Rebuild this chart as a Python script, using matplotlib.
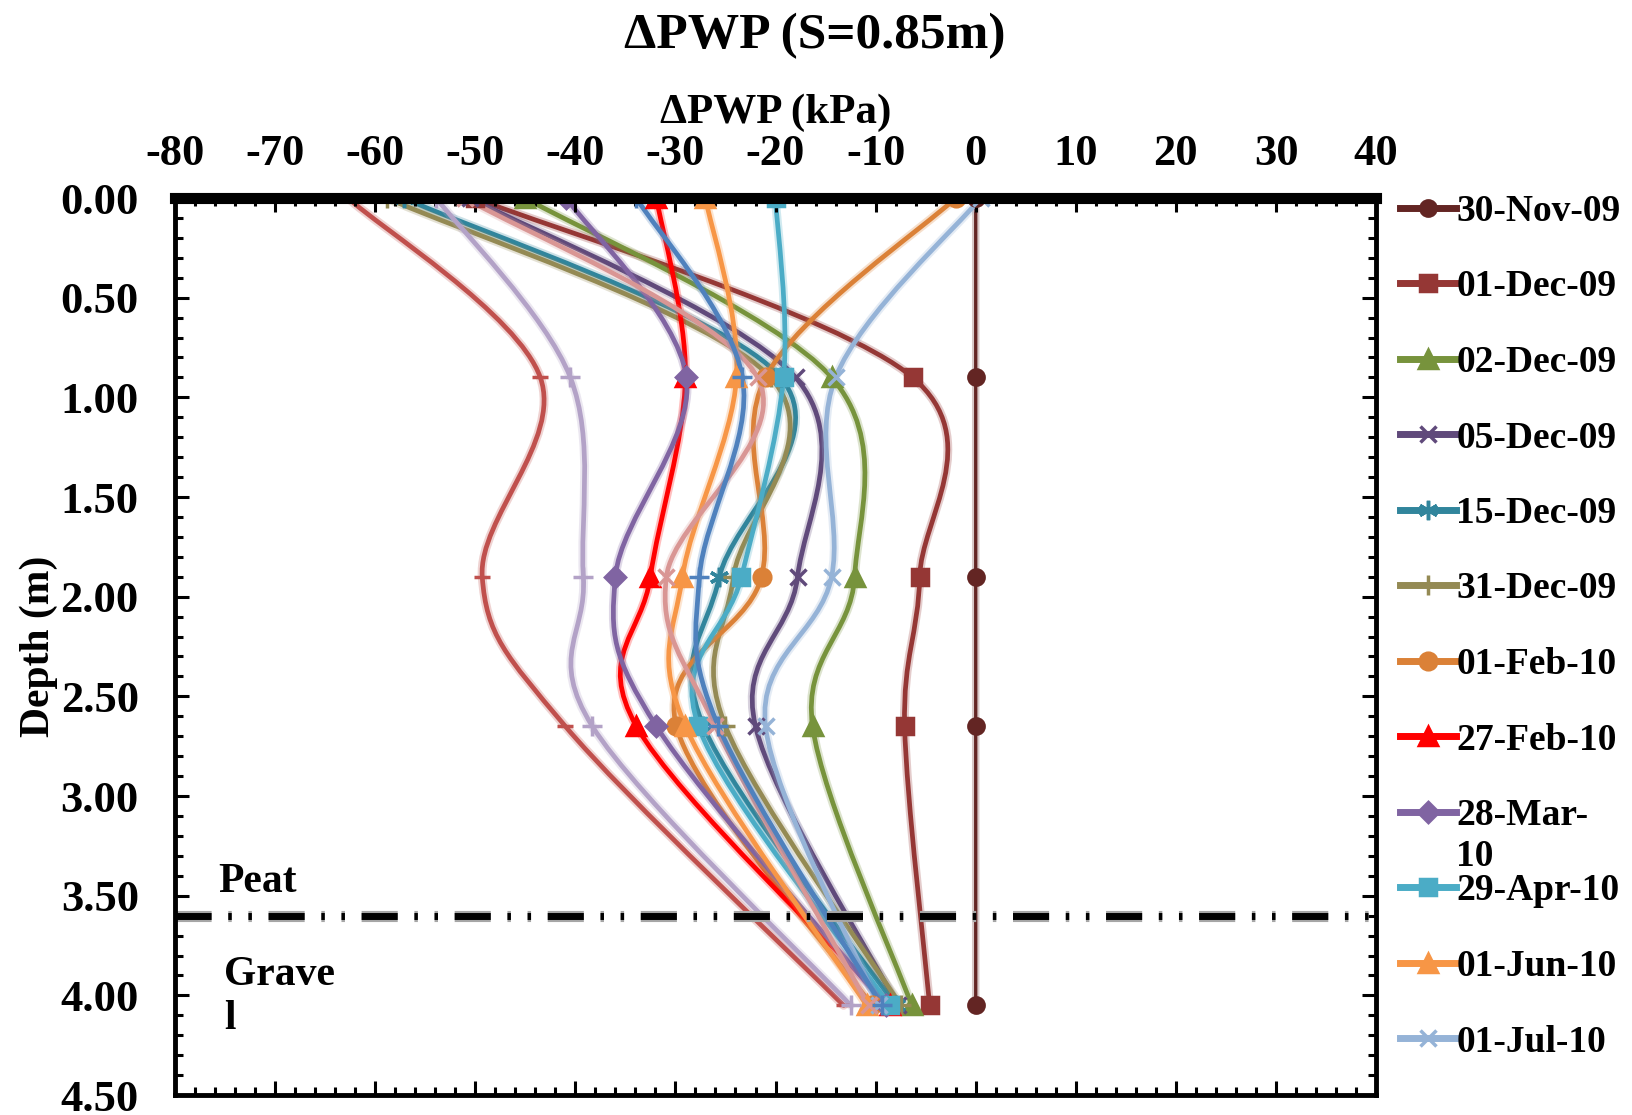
import numpy as np
import matplotlib
matplotlib.use("Agg")
import matplotlib.pyplot as plt
import matplotlib.patheffects as pe
from matplotlib.path import Path
from matplotlib.patches import PathPatch
from matplotlib.lines import Line2D
from matplotlib.ticker import MultipleLocator, FormatStrFormatter
from matplotlib.transforms import IdentityTransform

plt.rcParams["font.family"] = ["Liberation Serif", "DejaVu Serif"]
plt.rcParams["font.weight"] = "bold"
plt.rcParams["axes.labelweight"] = "bold"
plt.rcParams["axes.unicode_minus"] = False

# depth of the piezometers (m)
depth = [0.0, 0.9, 1.9, 2.65, 4.05]

# change in pore water pressure (kPa) at each depth
nov30_09 = [0.0, 0.0, 0.0, 0.0, 0.0]
dec01_09 = [-50.0, -6.3, -5.6, -7.1, -4.6]
dec02_09 = [-45.0, -14.4, -12.1, -16.3, -6.4]
dec05_09 = [-50.5, -18.0, -17.8, -22.0, -7.8]
dec15_09 = [-57.1, -19.5, -25.6, -27.2, -8.0]
dec31_09 = [-58.8, -20.5, -24.2, -25.0, -7.5]
feb01_10 = [-2.0, -21.0, -21.4, -29.9, -10.4]
feb27_10 = [-31.9, -29.0, -32.5, -33.9, -8.6]
mar28_10 = [-40.9, -28.9, -36.0, -31.9, -9.0]
apr29_10 = [-20.0, -19.2, -23.4, -27.7, -8.6]
jun01_10 = [-27.0, -23.9, -29.3, -29.0, -10.9]
jul01_10 = [0.5, -14.0, -14.4, -21.0, -9.7]
# later readings (not listed in the legend)
later_a = [-62.7, -43.5, -49.3, -41.0, -13.2]
later_b = [-53.9, -40.5, -39.2, -38.3, -12.5]
later_c = [-51.0, -21.8, -30.9, -26.0, -10.7]
later_d = [-33.9, -23.3, -27.6, -25.7, -9.4]

labels = ["30-Nov-09", "01-Dec-09", "02-Dec-09", "05-Dec-09", "15-Dec-09",
          "31-Dec-09", "01-Feb-10", "27-Feb-10", "28-Mar-", "29-Apr-10",
          "01-Jun-10", "01-Jul-10"]

series = [nov30_09, dec01_09, dec02_09, dec05_09, dec15_09, dec31_09,
          feb01_10, feb27_10, mar28_10, apr29_10, jun01_10, jul01_10,
          later_a, later_b, later_c, later_d]

asterisk = (6, 2, 0)
styles = [
    ("#632523", "o", 11), ("#953735", "s", 12), ("#77933C", "^", 13),
    ("#604A7B", "x", 12), ("#31859C", asterisk, 14), ("#948A54", "+", 14),
    ("#DB8137", "o", 12), ("#FF0000", "^", 13), ("#8064A2", "D", 10),
    ("#4BACC6", "s", 12), ("#F79646", "^", 13), ("#95B3D7", "x", 12),
    ("#C0504D", "_", 12), ("#B3A2C7", "+", 14), ("#D99694", "x", 12),
    ("#4F81BD", "+", 14),
]

peat_depth = 3.6


def smooth_path(xv, yv, ys=20.0):
    # Catmull-Rom style bezier through the points (depth scaled to screen units)
    p = np.column_stack([xv, np.asarray(yv) * ys])
    n = len(p)
    verts = [p[0]]
    codes = [Path.MOVETO]
    for i in range(n - 1):
        p0 = p[max(i - 1, 0)]
        p1, p2 = p[i], p[i + 1]
        p3 = p[min(i + 2, n - 1)]
        verts += [p1 + (p2 - p0) / 6, p2 - (p3 - p1) / 6, p2]
        codes += [Path.CURVE4] * 3
    verts = np.array(verts)
    verts[:, 1] /= ys
    return Path(verts, codes)


fig = plt.figure(figsize=(16.32, 11.15), dpi=100)
ax = fig.add_axes([0.1072, 0.0179, 0.736, 0.8045])

for vals, (col, mk, ms) in zip(series, styles):
    lw = 2.4 if vals is nov30_09 else 3.4
    patch = PathPatch(smooth_path(vals, depth), fill=False, edgecolor=col,
                      lw=lw, capstyle="round", joinstyle="round")
    patch.set_path_effects([pe.Stroke(linewidth=lw + 3, foreground=col, alpha=0.25),
                            pe.Normal()])
    ax.add_patch(patch)
    ax.plot(vals, depth, linestyle="none", marker=mk, ms=ms, color=col,
            mec=col, mew=2.5)

# peat / gravel boundary
ax.axhline(peat_depth, color="black", lw=5,
           dashes=(5.2, 2.4, 0.5, 2.4, 0.5, 2.4),
           path_effects=[pe.Stroke(linewidth=8, foreground="0.65"), pe.Normal()])
ax.text(-75.7, 3.43, "Peat", fontsize=30, ha="left", va="center")
ax.text(-75.1, 4.01, "Grave\nl", fontsize=30, ha="left", va="center",
        linespacing=1.2)

ax.set_xlim(-80, 40)
ax.set_ylim(4.5, 0)
ax.xaxis.set_major_locator(MultipleLocator(10))
ax.xaxis.set_minor_locator(MultipleLocator(2))
ax.yaxis.set_major_locator(MultipleLocator(0.5))
ax.yaxis.set_minor_locator(MultipleLocator(0.1))
ax.yaxis.set_major_formatter(FormatStrFormatter("%.2f"))

ax.tick_params(axis="both", which="both", direction="in", top=True,
               bottom=True, left=True, right=True, labeltop=True,
               labelbottom=False, width=2.2, labelsize=32)
ax.tick_params(which="major", length=10)
ax.tick_params(which="minor", length=6)
ax.tick_params(axis="x", pad=17)
ax.tick_params(axis="y", pad=26)

ax.spines["top"].set_linewidth(8)
for s in ["left", "right", "bottom"]:
    ax.spines[s].set_linewidth(3.5)

ax.xaxis.set_label_position("top")
ax.set_xlabel("ΔPWP (kPa)", fontsize=31, labelpad=8)
ax.set_ylabel("Depth (m)", fontsize=30, labelpad=2)
fig.text(0.499, 0.968, "ΔPWP (S=0.85m)", fontsize=37, ha="center", va="center")

handles = [Line2D([], [], color=c, marker=m, ms=s, mec=c, mew=2.5, lw=5)
           for c, m, s in styles[:12]]
leg = ax.legend(handles, labels, loc="upper left",
                bbox_to_anchor=(1400 / 1632, 1 - 194 / 1115),
                bbox_transform=fig.transFigure, frameon=False, fontsize=27,
                handlelength=1.5, handletextpad=0.0, labelspacing=1.08,
                borderaxespad=0, borderpad=0)

# wrapped second line of the 28-Mar-10 entry
fig.canvas.draw()
bb = leg.get_texts()[8].get_window_extent()
fig.text(bb.x0, bb.y0 - 6, "10", fontsize=27, ha="left", va="top",
         transform=IdentityTransform())

fig.savefig("out.png", dpi=100)
